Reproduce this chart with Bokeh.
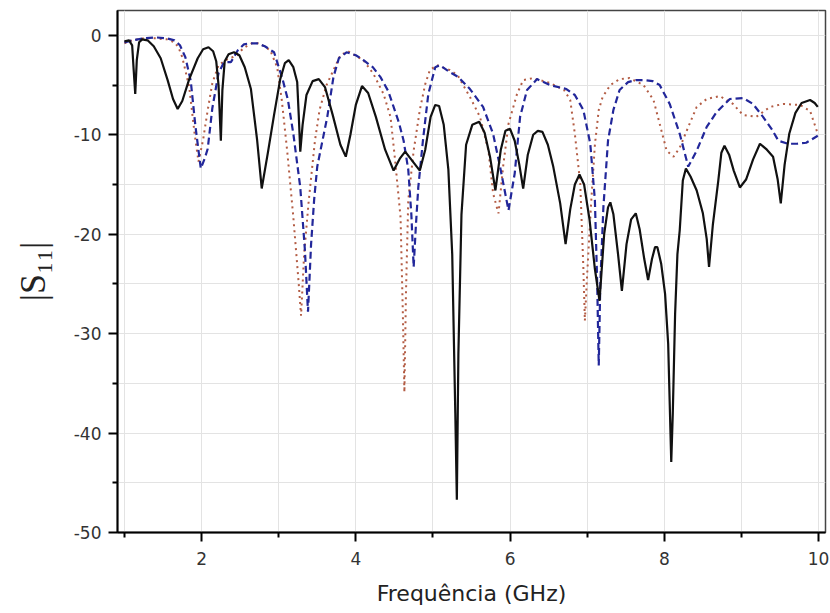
from bokeh.plotting import figure
from bokeh.models import Range1d, FixedTicker, CustomJSTickFormatter
from bokeh.embed import file_html
from bokeh.resources import INLINE

# --- data: (frequency GHz, |S11| dB) ---
black = [(1.00, -0.6), (1.06, -0.5), (1.10, -1.0), (1.12, -3.5), (1.14, -5.9), (1.16, -2.5), (1.19, -0.7),
         (1.23, -0.4), (1.30, -0.5), (1.38, -1.1), (1.47, -2.3), (1.56, -4.5), (1.63, -6.4), (1.69, -7.4),
         (1.75, -6.6), (1.84, -4.4), (1.95, -2.3), (2.02, -1.4), (2.09, -1.2), (2.15, -1.6), (2.19, -2.6),
         (2.22, -5.0), (2.25, -10.6), (2.27, -5.5), (2.30, -2.6), (2.35, -1.9), (2.42, -1.7), (2.49, -2.0),
         (2.56, -3.2), (2.64, -5.4), (2.72, -10.5), (2.78, -15.4), (2.86, -11.8), (2.94, -8.0), (3.02, -4.4),
         (3.08, -2.8), (3.13, -2.5), (3.19, -3.2), (3.24, -4.7), (3.26, -8.0), (3.28, -11.7), (3.31, -9.0),
         (3.36, -6.0), (3.44, -4.6), (3.52, -4.4), (3.60, -5.2), (3.70, -8.0), (3.80, -11.0), (3.87, -12.2),
         (3.93, -10.0), (4.00, -7.0), (4.08, -5.1), (4.16, -5.8), (4.26, -8.2), (4.38, -11.5), (4.49, -13.6),
         (4.57, -12.4), (4.64, -11.7), (4.72, -12.5), (4.83, -13.6), (4.90, -11.5), (4.97, -8.2), (5.03, -7.0),
         (5.08, -7.1), (5.14, -9.0), (5.20, -13.5), (5.25, -22.0), (5.29, -38.0), (5.31, -46.7), (5.33, -32.0),
         (5.37, -18.0), (5.43, -11.0), (5.51, -9.0), (5.60, -8.7), (5.67, -9.8), (5.74, -12.2), (5.81, -15.6),
         (5.88, -11.5), (5.94, -9.6), (6.00, -9.4), (6.06, -10.6), (6.12, -13.0), (6.17, -15.4), (6.23, -12.0),
         (6.30, -10.0), (6.36, -9.6), (6.42, -9.7), (6.49, -11.0), (6.56, -13.2), (6.65, -16.9), (6.72, -21.0),
         (6.78, -17.5), (6.84, -15.0), (6.90, -14.0), (6.96, -15.0), (7.03, -18.5), (7.10, -23.5), (7.16, -26.7),
         (7.22, -20.0), (7.27, -17.3), (7.30, -16.8), (7.34, -18.0), (7.40, -22.0), (7.45, -25.7), (7.51, -21.0),
         (7.57, -18.5), (7.63, -17.9), (7.68, -19.5), (7.74, -22.5), (7.79, -24.6), (7.84, -22.5), (7.88, -21.3),
         (7.91, -21.3), (7.96, -23.0), (8.01, -26.0), (8.05, -31.0), (8.08, -40.0), (8.09, -42.9), (8.11, -38.0),
         (8.14, -28.0), (8.17, -22.0), (8.20, -19.6), (8.24, -14.6), (8.28, -13.4), (8.34, -14.2), (8.42, -15.6),
         (8.50, -17.9), (8.55, -20.5), (8.58, -23.3), (8.63, -19.0), (8.70, -14.6), (8.74, -11.8), (8.78, -11.1),
         (8.84, -12.0), (8.90, -13.6), (8.98, -15.3), (9.06, -14.5), (9.15, -12.5), (9.24, -10.9), (9.33, -11.5),
         (9.41, -12.2), (9.47, -14.5), (9.51, -16.9), (9.56, -13.0), (9.62, -9.9), (9.70, -7.8), (9.78, -6.8),
         (9.89, -6.5), (9.95, -6.8), (9.99, -7.2)]

blue = [(1.00, -0.7), (1.10, -0.5), (1.25, -0.3), (1.40, -0.2), (1.55, -0.3), (1.65, -0.5), (1.72, -1.0),
        (1.79, -2.2), (1.86, -4.6), (1.92, -9.1), (1.99, -13.4), (2.04, -12.4), (2.08, -11.4), (2.14, -7.3),
        (2.22, -3.8), (2.29, -2.7), (2.38, -2.7), (2.47, -1.5), (2.55, -0.9), (2.62, -0.8), (2.72, -0.8),
        (2.82, -1.1), (2.94, -1.7), (3.05, -4.4), (3.12, -6.5), (3.19, -9.9), (3.28, -15.3), (3.34, -21.6),
        (3.38, -27.8), (3.42, -21.0), (3.46, -16.5), (3.50, -13.2), (3.57, -10.5), (3.63, -8.2), (3.71, -4.2),
        (3.78, -2.3), (3.88, -1.7), (4.00, -2.0), (4.10, -2.5), (4.22, -3.2), (4.32, -4.2), (4.42, -5.6),
        (4.49, -7.2), (4.56, -8.8), (4.62, -10.6), (4.68, -13.5), (4.72, -18.0), (4.75, -23.3), (4.78, -19.0),
        (4.81, -15.3), (4.87, -10.6), (4.94, -5.9), (5.03, -3.2), (5.09, -3.0), (5.22, -3.7), (5.33, -4.2),
        (5.48, -5.4), (5.65, -7.2), (5.78, -9.9), (5.87, -13.2), (5.98, -17.6), (6.06, -13.9), (6.13, -8.2),
        (6.22, -5.5), (6.35, -4.4), (6.52, -5.0), (6.73, -5.4), (6.84, -6.0), (6.95, -7.5), (7.04, -10.9),
        (7.10, -16.6), (7.13, -25.0), (7.15, -33.2), (7.17, -25.0), (7.21, -17.3), (7.27, -10.6), (7.34, -7.5),
        (7.42, -5.5), (7.53, -4.7), (7.63, -4.5), (7.73, -4.5), (7.85, -4.6), (7.94, -5.0), (8.07, -6.9),
        (8.20, -9.9), (8.31, -13.2), (8.42, -11.6), (8.55, -9.2), (8.68, -7.7), (8.85, -6.4), (9.02, -6.3),
        (9.15, -6.9), (9.28, -8.2), (9.39, -9.4), (9.48, -10.6), (9.60, -10.9), (9.72, -10.9), (9.84, -10.8),
        (9.99, -10.1)]

brown = [(1.00, -0.8), (1.10, -0.5), (1.25, -0.3), (1.40, -0.3), (1.55, -0.4), (1.65, -0.7), (1.70, -1.2),
         (1.75, -2.2), (1.84, -5.2), (1.91, -9.9), (1.96, -12.7), (2.02, -10.5), (2.08, -7.5), (2.14, -4.8),
         (2.22, -3.0), (2.31, -2.5), (2.40, -2.2), (2.46, -2.0), (2.54, -1.3), (2.65, -0.8), (2.75, -0.8),
         (2.89, -1.5), (2.98, -3.2), (3.04, -6.5), (3.11, -11.6), (3.19, -18.3), (3.26, -25.0), (3.29, -28.2),
         (3.33, -22.0), (3.39, -16.6), (3.47, -10.6), (3.53, -7.5), (3.62, -5.0), (3.74, -3.0), (3.80, -2.0),
         (3.90, -1.6), (4.10, -2.5), (4.23, -3.9), (4.36, -5.9), (4.45, -8.2), (4.51, -12.6), (4.58, -18.3),
         (4.61, -28.0), (4.63, -35.9), (4.65, -26.0), (4.68, -16.6), (4.75, -11.6), (4.83, -7.5), (4.90, -4.9),
         (4.96, -3.5), (5.05, -3.0), (5.22, -3.5), (5.32, -4.0), (5.48, -6.2), (5.61, -8.2), (5.72, -11.6),
         (5.78, -15.9), (5.85, -17.9), (5.91, -13.2), (5.98, -8.9), (6.09, -5.9), (6.17, -4.5), (6.30, -4.3),
         (6.52, -4.8), (6.70, -5.5), (6.78, -6.5), (6.84, -9.9), (6.91, -14.9), (6.95, -23.3), (6.97, -28.7),
         (7.00, -24.0), (7.05, -17.0), (7.10, -11.0), (7.15, -7.5), (7.20, -6.2), (7.30, -5.0), (7.42, -4.4),
         (7.55, -4.3), (7.73, -5.0), (7.86, -6.5), (7.94, -8.9), (8.03, -11.6), (8.12, -12.2), (8.20, -11.3),
         (8.29, -9.6), (8.42, -7.2), (8.55, -6.4), (8.72, -6.1), (8.89, -6.9), (9.02, -8.0), (9.19, -8.2),
         (9.37, -7.2), (9.54, -6.9), (9.76, -7.0), (9.89, -7.6), (9.99, -9.9)]

x_major = [2, 4, 6, 8, 10]
x_minor = [1, 3, 5, 7, 9]
y_major = [-50, -40, -30, -20, -10, 0]
y_minor = [-45, -35, -25, -15, -5]

black_x, black_y = [list(v) for v in zip(*black)]
blue_x, blue_y = [list(v) for v in zip(*blue)]
brown_x, brown_y = [list(v) for v in zip(*brown)]

p = figure(width=830, height=613, output_backend="svg", toolbar_location=None,
           x_range=Range1d(0.91, 10.09), y_range=Range1d(-50, 2.5),
           min_border_left=117, min_border_right=5, min_border_top=10, min_border_bottom=81)

p.line(brown_x, brown_y, line_color="#b35c44", line_width=2, line_dash="2 4")
p.line(blue_x, blue_y, line_color="#22279a", line_width=2.2, line_dash="7 4")
p.line(black_x, black_y, line_color="#111111", line_width=2.2)

p.xaxis.ticker = FixedTicker(ticks=x_major, minor_ticks=x_minor)
p.yaxis.ticker = FixedTicker(ticks=y_major, minor_ticks=y_minor)

fmt = CustomJSTickFormatter(code="return String(tick);")
for ax in (p.xaxis[0], p.yaxis[0]):
    ax.formatter = fmt
    ax.axis_line_color = "black"
    ax.axis_line_width = 2
    ax.major_tick_line_color = "black"
    ax.major_tick_line_width = 2
    ax.minor_tick_line_color = "black"
    ax.minor_tick_line_width = 2
    ax.major_tick_out = 9
    ax.major_tick_in = 0
    ax.minor_tick_out = 5
    ax.minor_tick_in = 0
    ax.major_label_text_font = "DejaVu Sans"
    ax.major_label_text_font_size = "17px"
    ax.major_label_text_color = "#333333"
    ax.axis_label_text_font_style = "normal"
    ax.axis_label_text_color = "#222222"

p.xaxis.axis_label = "Frequência (GHz)"
p.xaxis.axis_label_text_font = "DejaVu Sans"
p.xaxis.axis_label_text_font_size = "22px"
p.xaxis.major_label_standoff = 10
p.xaxis.axis_label_standoff = 13

p.yaxis.axis_label = "|S₁₁|"
p.yaxis.axis_label_text_font = "Liberation Serif"
p.yaxis.axis_label_text_font_size = "36px"
p.yaxis.major_label_standoff = 7
p.yaxis.axis_label_standoff = 18

p.xgrid.grid_line_color = "#e3e3e3"
p.ygrid.grid_line_color = "#e3e3e3"
p.xgrid.minor_grid_line_color = "#e3e3e3"
p.ygrid.minor_grid_line_color = "#e3e3e3"

p.outline_line_color = "#444444"
p.outline_line_width = 1.5
p.background_fill_color = "white"
p.border_fill_color = "white"

open("out.html", "w").write(file_html(p, INLINE))
